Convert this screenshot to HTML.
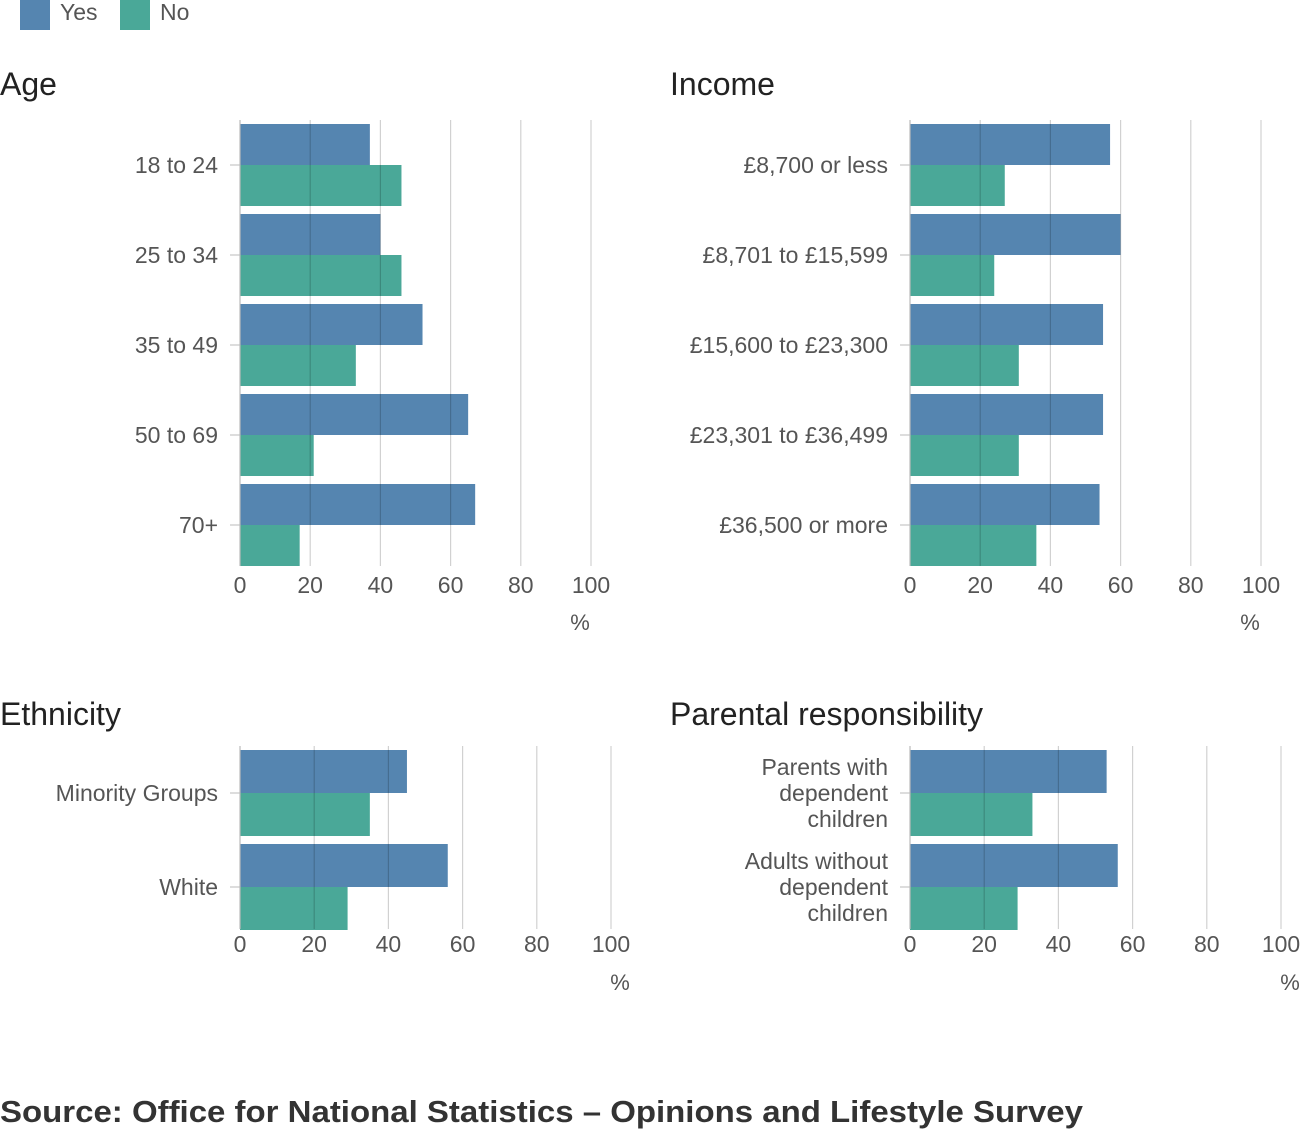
<!DOCTYPE html>
<html><head><meta charset="utf-8"><style>
body{margin:0;width:1301px;height:1131px;background:#fff;font-family:"Liberation Sans",sans-serif;overflow:hidden}
svg text{font-family:"Liberation Sans",sans-serif}
</style></head><body>
<svg id="c" width="1301" height="1131">
<g>
<rect x="20" y="-2" width="30" height="32" fill="#5585b0"/>
<text x="60" y="20" font-size="23" fill="#555">Yes</text>
<rect x="120" y="-2" width="30" height="32" fill="#4aa898"/>
<text x="160" y="20" font-size="23" fill="#555">No</text>
</g>
<text x="0" y="1122" font-size="31" font-weight="bold" fill="#333" textLength="1083" lengthAdjust="spacingAndGlyphs">Source: Office for National Statistics – Opinions and Lifestyle Survey</text>
</svg>
<script>
const ageCats=["18 to 24","25 to 34","35 to 49","50 to 69","70+"];
const ageYes=[37,40,52,65,67];
const ageNo=[46,46,33,21,17];
const incCats=["£8,700 or less","£8,701 to £15,599","£15,600 to £23,300","£23,301 to £36,499","£36,500 or more"];
const incYes=[57,60,55,55,54];
const incNo=[27,24,31,31,36];
const ethCats=["Minority Groups","White"];
const ethYes=[45,56];
const ethNo=[35,29];
const parCats=[["Parents with","dependent","children"],["Adults without","dependent","children"]];
const parYes=[53,56];
const parNo=[33,29];
const ticks=[0,20,40,60,80,100];
const svg=document.getElementById('c');
const NS="http://www.w3.org/2000/svg";
function mk(t,a,p){const e=document.createElementNS(NS,t);for(const k in a)e.setAttribute(k,a[k]);(p||svg).appendChild(e);return e;}
function panel(key,title,tx,ty,x0,x1,y0,y1,band,ux,tickY,unitY,cats,yes,no){
  const g=mk('g',{});
  
  
  const t=mk('text',{x:tx,y:ty,'font-size':32,fill:'#222'},g);t.textContent=title;
  
  
  const sx=v=>x0+(x1-x0)*v/100;
  cats.forEach((c,i)=>{
    const top=y0+band*i+4, h=(band-8)/2;
    const b1=mk('rect',{x:x0,y:top,width:sx(yes[i])-x0,height:h,fill:'#5585b0'},g);
    
    
    const b2=mk('rect',{x:x0,y:top+h,width:sx(no[i])-x0,height:h,fill:'#4aa898'},g);
    
    
    const cy=top+h;
    mk('line',{x1:x0-10,x2:x0,y1:cy,y2:cy,stroke:'#bbb'},g);
    const lines=Array.isArray(c)?c:[c];
    const lt=mk('text',{x:x0-22,y:cy+8-(lines.length-1)*13,'font-size':23,fill:'#555','text-anchor':'end'},g);
    lines.forEach((s,j)=>{const ts=mk('tspan',{x:x0-22,dy:j?26:0},lt);ts.textContent=s;});
    
    
  });
  ticks.forEach(v=>{
    mk('line',{x1:sx(v),x2:sx(v),y1:y0,y2:y1,stroke:v?'rgba(0,0,0,0.18)':'#bbb','stroke-width':1.2},g);
    const tl=mk('text',{x:sx(v),y:tickY,'font-size':23,fill:'#555','text-anchor':'middle'},g);tl.textContent=v;
    
    
  });
  const u=mk('text',{x:ux,y:unitY,'font-size':22,fill:'#555','text-anchor':'middle'},g);u.textContent='%';
  
  
}
panel('age','Age',0,95,240,591,120,566,90,580,593,630,ageCats,ageYes,ageNo);
panel('income','Income',670,95,910,1261,120,566,90,1250,593,630,incCats,incYes,incNo);
panel('ethnicity','Ethnicity',0,725,240,611,746,929,94,620,952,990,ethCats,ethYes,ethNo);
panel('parental','Parental responsibility',670,725,910,1281,746,929,94,1290,952,990,parCats,parYes,parNo);
</script>
</body></html>
